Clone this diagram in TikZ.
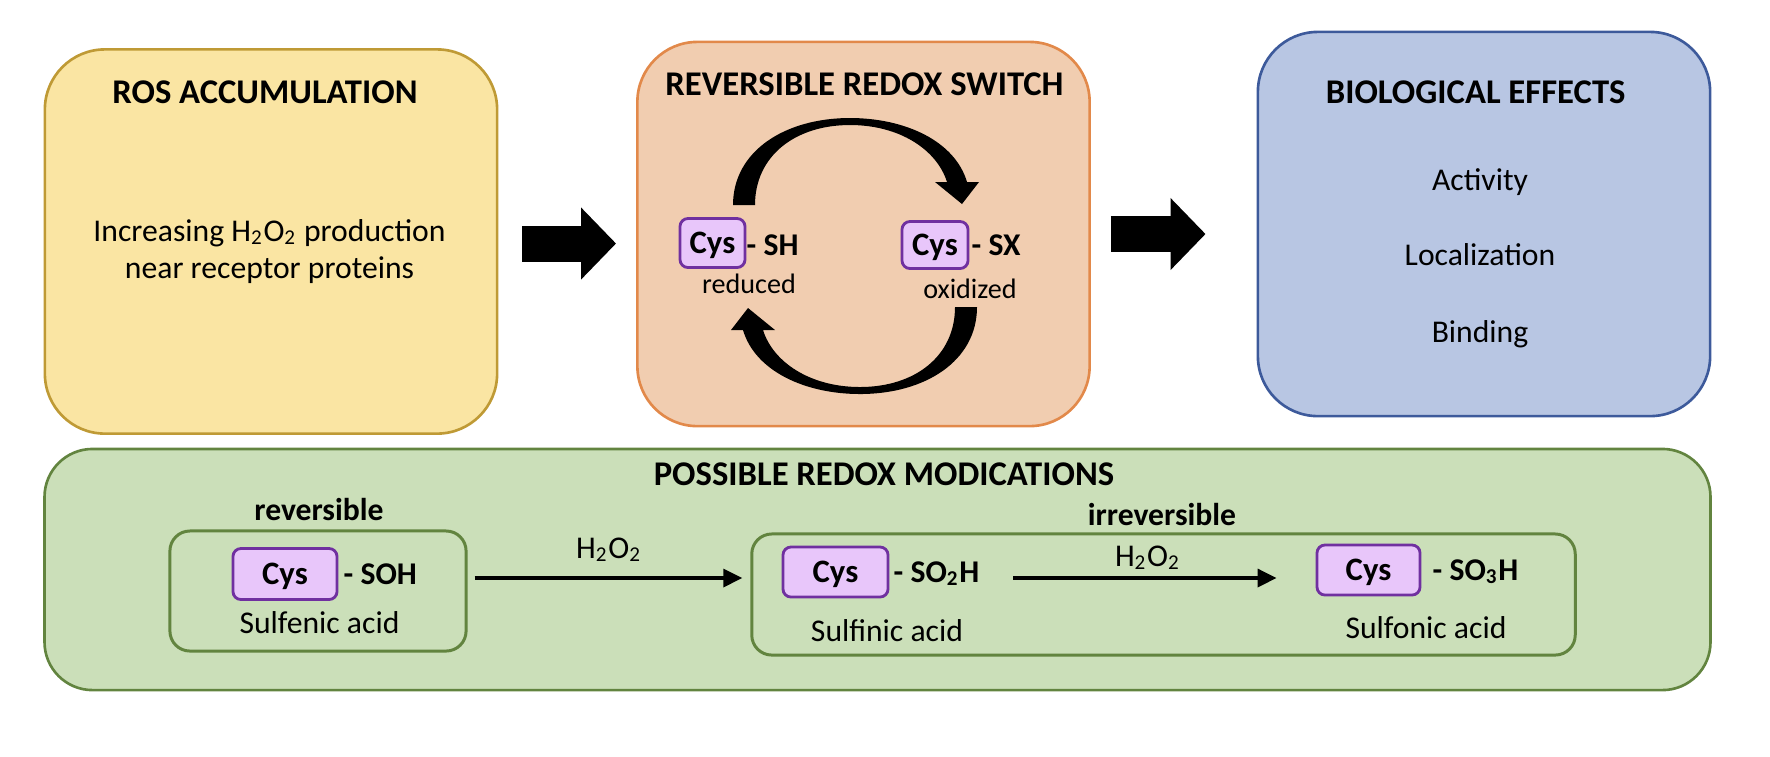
\documentclass[tikz,border=0pt]{standalone}
\usepackage{fontspec}
\setmainfont{Carlito}
\usetikzlibrary{arrows.meta}
\definecolor{rosfill}{HTML}{FAE5A3}
\definecolor{rosline}{HTML}{BF9A35}
\definecolor{swfill}{HTML}{F1CDB0}
\definecolor{swline}{HTML}{E2894A}
\definecolor{effill}{HTML}{B8C6E3}
\definecolor{efline}{HTML}{3D5A9B}
\definecolor{modfill}{HTML}{CBDFB9}
\definecolor{modline}{HTML}{62843F}
\definecolor{cysfill}{HTML}{E8C6FA}
\definecolor{cysline}{HTML}{7030A0}
\newcommand{\peroxide}{H\textsubscript{2}O\textsubscript{2}}
\begin{document}
\begin{tikzpicture}[x=0.01cm,y=-0.01cm,
	every node/.style={inner sep=0pt,font=\fontsize{9}{10.5}\selectfont},
	bigbox/.style={draw,line width=0.75pt,rounded corners=0.6cm,minimum width=4.52cm,minimum height=3.84cm},
	smallbox/.style={draw=modline,line width=0.85pt,rounded corners=0.2cm},
	title/.style={anchor=base,font=\fontsize{9.85}{11.5}\selectfont\bfseries},
	subtitle/.style={anchor=base,font=\fontsize{9}{10.5}\selectfont\bfseries},
	cys/.style={draw=cysline,fill=cysfill,line width=0.8pt,rounded corners=0.08cm,text height=0.2cm,text depth=0pt,font=\fontsize{9.3}{10.5}\selectfont\bfseries},
	group/.style={anchor=base west,font=\fontsize{9}{10.5}\selectfont\bfseries},
	blockarrow/.style={line width=0.36cm,-{Triangle[width=0.7cm,length=0.35cm]}},
	rxn/.style={line width=1pt,-{Triangle[width=0.18cm,length=0.19cm]}}]
	\tikzset{cyc/.pic={
			\fill (-122,-51) .. controls (-122,-105) and (-70,-138) .. (-5,-138) .. controls (50,-138) and (100,-115) .. (112,-74) -- (124,-74) -- (107,-52) -- (80,-74) -- (92,-74) .. controls (82,-106) and (45,-131) .. (-5,-131) .. controls (-60,-131) and (-100,-100) .. (-100,-51) -- cycle;
	}}
	\useasboundingbox (0,0) rectangle (1770,756);
	\node[bigbox,fill=rosfill,draw=rosline] (ros) at (271,241.5) {};
	\node[bigbox,fill=swfill,draw=swline] (switch) at (863.5,234) {};
	\node[bigbox,fill=effill,draw=efline] (effects) at (1484,224) {};
	\node[bigbox,fill=modfill,draw=modline,minimum width=16.65cm,minimum height=2.41cm,rounded corners=0.48cm] (mods) at (877.5,569.5) {};
	\node[title] (rostitle) at (265,103) {ROS ACCUMULATION};
	\node[title] (swtitle) at (864.5,95) {REVERSIBLE REDOX SWITCH};
	\node[title] (eftitle) at (1475.6,103) {BIOLOGICAL EFFECTS};
	\node[title] (modtitle) at (884,485) {POSSIBLE REDOX MODICATIONS};
	\node[anchor=base] (rostext) at (269.5,241) {Increasing \peroxide{} production};
	\node[anchor=base] (rostextb) at (269.5,278) {near receptor proteins};
	\node[cys,minimum width=0.65cm,minimum height=0.49cm] (cysa) at (712.5,243) {Cys};
	\node[group] (sh) at (746,255) {- SH};
	\node[anchor=base,font=\fontsize{8}{9.5}\selectfont] (reduced) at (749,293) {reduced};
	\node[cys,minimum width=0.66cm,minimum height=0.47cm] (cysb) at (935,245) {Cys};
	\node[group] (sx) at (971,255) {- SX};
	\node[anchor=base,font=\fontsize{8}{9.5}\selectfont] (oxidized) at (970,298) {oxidized};
	\path (855,256) pic{cyc};
	\path (855,256) pic[rotate=180]{cyc};
	\foreach \t/\y in {Activity/190,Localization/265,Binding/342}
	\node[anchor=base] (\t) at (1480,\y) {\t};
	\node[smallbox,minimum width=2.96cm,minimum height=1.2cm] (revbox) at (318,591) {};
	\node[smallbox,minimum width=8.23cm,minimum height=1.21cm] (irrbox) at (1163.5,594.5) {};
	\node[subtitle] (rev) at (319,520) {reversible};
	\node[subtitle] (irr) at (1162,525) {irreversible};
	\node[cys,minimum width=1.04cm,minimum height=0.51cm] (cys1) at (285,574) {Cys};
	\node[group] (soh) at (343,584) {- SOH};
	\node[anchor=base] (sulfenic) at (319.5,633) {Sulfenic acid};
	\node[cys,minimum width=1.05cm,minimum height=0.5cm] (cys2) at (835.5,572) {Cys};
	\node[group] (so2h) at (893,582) {- SO\textsubscript{2}H};
	\node[anchor=base] (sulfinic) at (887,641) {Sulfinic acid};
	\node[cys,minimum width=1.03cm,minimum height=0.5cm] (cys3) at (1368.5,570) {Cys};
	\node[group] (so3h) at (1432,580) {- SO\textsubscript{3}H};
	\node[anchor=base] (sulfonic) at (1426,638) {Sulfonic acid};
	\coordinate (ra) at ([yshift=-0.02cm]ros.east);
	\draw[blockarrow,shorten <=0.24cm,shorten >=0.2cm] (ra) -- (ra -| switch.west);
	\draw[blockarrow,shorten <=0.2cm,shorten >=0.51cm] (switch.east) -- (switch.east -| effects.west);
	\coordinate (lvl) at (0,578);
	\draw[rxn,shorten <=0.07cm,shorten >=0.08cm] (revbox.east |- lvl) -- (irrbox.west |- lvl) node[midway,anchor=base,yshift=0.2cm] (hpa) {\peroxide};
	\draw[rxn,shorten <=0.33cm,shorten >=0.39cm] (so2h.east |- lvl) -- (cys3.west |- lvl) node[midway,anchor=base,yshift=0.12cm] (hpb) {\peroxide};
\end{tikzpicture}
\end{document}
